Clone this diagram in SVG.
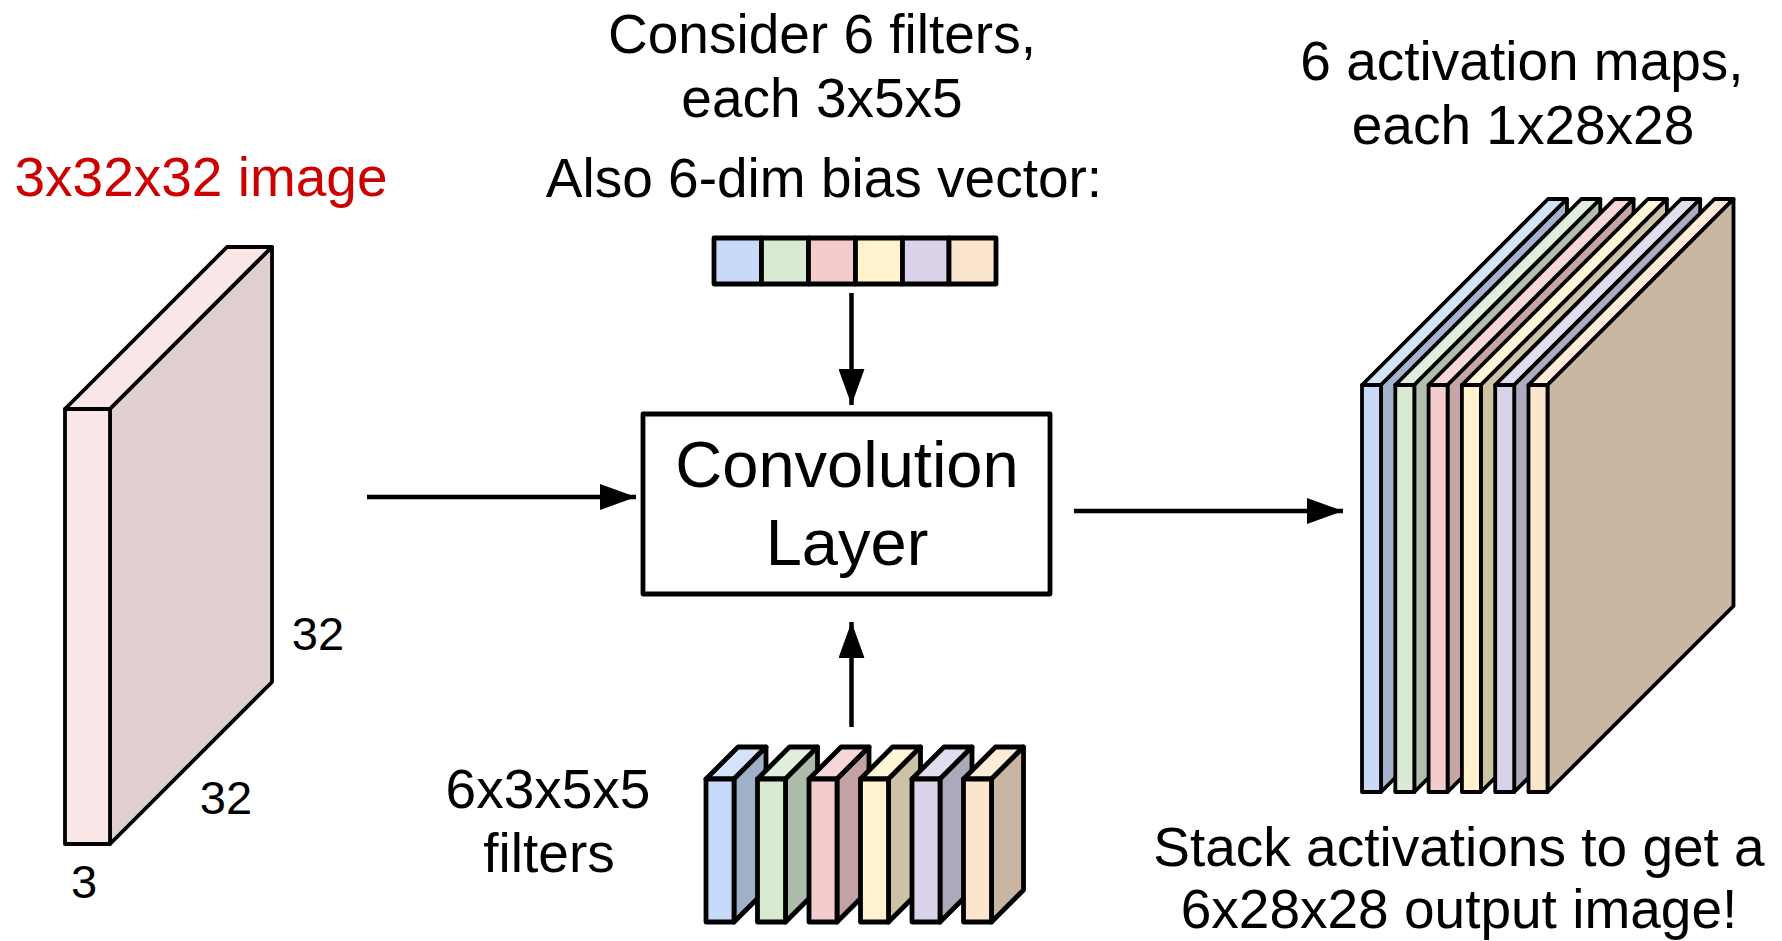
<svg xmlns="http://www.w3.org/2000/svg" width="1782" height="941" viewBox="0 0 1782 941">
<defs>
<style>
text{font-family:"Liberation Sans",Arial,sans-serif;fill:#000;text-anchor:middle}
.t55{font-size:55px}
.t46{font-size:47px}
.t65{font-size:65px}
.red{fill:#cc0000}
.s3{stroke:#000;stroke-width:3.8;stroke-linejoin:round}
.s4{stroke:#000;stroke-width:4.8;stroke-linejoin:round}
.conn{stroke:#000;stroke-width:4.5;fill:none}
</style>
<marker id="ah" viewBox="0 0 36 26" refX="36" refY="13" markerWidth="36" markerHeight="26" markerUnits="userSpaceOnUse" orient="auto">
<path d="M0,0 L36,13 L0,26 Z" fill="#000"/>
</marker>
</defs>
<rect width="1782" height="941" fill="#fff"/>

<g id="input-volume">
<polygon class="s3" fill="#f9e6e6" points="65,409 110,409 272,247 227,247"/>
<polygon class="s3" fill="#dfcfcf" points="110,409 272,247 272,682 110,844"/>
<rect class="s3" fill="#f9e6e6" x="65" y="409" width="45" height="435"/>
</g>
<g id="input-labels">
<text class="t55 red" x="201" y="196">3x32x32 image</text>
<text class="t46" x="318" y="650">32</text>
<text class="t46" x="226" y="814">32</text>
<text class="t46" x="84" y="898">3</text>
</g>

<g id="top-text">
<text class="t55" x="822" y="53">Consider 6 filters,</text>
<text class="t55" x="822" y="117">each 3x5x5</text>
<text class="t55" x="824" y="197">Also 6-dim bias vector:</text>
</g>

<g id="bias-vector">
<rect class="s4" fill="#c9daf8" x="714" y="238" width="47.5" height="46"/>
<rect class="s4" fill="#d9ead3" x="761.5" y="238" width="47" height="46"/>
<rect class="s4" fill="#f4cccc" x="808.5" y="238" width="47" height="46"/>
<rect class="s4" fill="#fff2cc" x="855.5" y="238" width="47" height="46"/>
<rect class="s4" fill="#d9d2e9" x="902.5" y="238" width="46.5" height="46"/>
<rect class="s4" fill="#fce5cd" x="949" y="238" width="47" height="46"/>
</g>

<g id="conv-layer">
<rect class="s4" fill="#fff" x="643" y="414" width="407" height="180"/>
<text class="t65" x="847" y="487">Convolution</text>
<text class="t65" x="847" y="565">Layer</text>
</g>

<g id="filters">
<g>
<polygon class="s4" fill="#d5e3f9" points="706,779 734,779 766,747 738,747"/>
<polygon class="s4" fill="#9fb0c9" points="734,779 766,747 766,890 734,922"/>
<rect class="s4" fill="#c9daf8" x="706" y="779" width="28" height="143"/>
</g>
<g>
<polygon class="s4" fill="#e1eedc" points="757.5,779 785.5,779 817.5,747 789.5,747"/>
<polygon class="s4" fill="#adbcaa" points="785.5,779 817.5,747 817.5,890 785.5,922"/>
<rect class="s4" fill="#d9ead3" x="757.5" y="779" width="28" height="143"/>
</g>
<g>
<polygon class="s4" fill="#f6d7d7" points="809,779 837,779 869,747 841,747"/>
<polygon class="s4" fill="#c4a2a4" points="837,779 869,747 869,890 837,922"/>
<rect class="s4" fill="#f4cccc" x="809" y="779" width="28" height="143"/>
</g>
<g>
<polygon class="s4" fill="#fff5d7" points="860.5,779 888.5,779 920.5,747 892.5,747"/>
<polygon class="s4" fill="#cbc3a3" points="888.5,779 920.5,747 920.5,890 888.5,922"/>
<rect class="s4" fill="#fff2cc" x="860.5" y="779" width="28" height="143"/>
</g>
<g>
<polygon class="s4" fill="#e1dcee" points="912,779 940,779 972,747 944,747"/>
<polygon class="s4" fill="#aca9bb" points="940,779 972,747 972,890 940,922"/>
<rect class="s4" fill="#d9d2e9" x="912" y="779" width="28" height="143"/>
</g>
<g>
<polygon class="s4" fill="#fdead7" points="963.5,779 991.5,779 1023.5,747 995.5,747"/>
<polygon class="s4" fill="#c9b5a3" points="991.5,779 1023.5,747 1023.5,890 991.5,922"/>
<rect class="s4" fill="#fce5cd" x="963.5" y="779" width="28" height="143"/>
</g>
</g>
<g id="filters-label">
<text class="t55" x="548" y="808">6x3x5x5</text>
<text class="t55" x="549" y="872">filters</text>
</g>

<g id="activation-maps">
<g>
<polygon class="s3" fill="#d5e3f9" points="1362,385 1381,385 1567,199 1548,199"/>
<polygon class="s3" fill="#a3b3cb" points="1381,385 1567,199 1567,606 1381,792"/>
<rect class="s3" fill="#c9daf8" x="1362" y="385" width="19" height="407"/>
</g>
<g>
<polygon class="s3" fill="#e1eedc" points="1395.3,385 1414.3,385 1600.3,199 1581.3,199"/>
<polygon class="s3" fill="#b1bfac" points="1414.3,385 1600.3,199 1600.3,606 1414.3,792"/>
<rect class="s3" fill="#d9ead3" x="1395.3" y="385" width="19" height="407"/>
</g>
<g>
<polygon class="s3" fill="#f6d7d7" points="1428.6,385 1447.6,385 1633.6,199 1614.6,199"/>
<polygon class="s3" fill="#c6a5a6" points="1447.6,385 1633.6,199 1633.6,606 1447.6,792"/>
<rect class="s3" fill="#f4cccc" x="1428.6" y="385" width="19" height="407"/>
</g>
<g>
<polygon class="s3" fill="#fff5d7" points="1461.9,385 1480.9,385 1666.9,199 1647.9,199"/>
<polygon class="s3" fill="#cdc4a5" points="1480.9,385 1666.9,199 1666.9,606 1480.9,792"/>
<rect class="s3" fill="#fff2cc" x="1461.9" y="385" width="19" height="407"/>
</g>
<g>
<polygon class="s3" fill="#e1dcee" points="1495.2,385 1514.2,385 1700.2,199 1681.2,199"/>
<polygon class="s3" fill="#aeabbd" points="1514.2,385 1700.2,199 1700.2,606 1514.2,792"/>
<rect class="s3" fill="#d9d2e9" x="1495.2" y="385" width="19" height="407"/>
</g>
<g>
<polygon class="s3" fill="#fdead7" points="1528.5,385 1547.5,385 1733.5,199 1714.5,199"/>
<polygon class="s3" fill="#c9b6a3" points="1547.5,385 1733.5,199 1733.5,606 1547.5,792"/>
<rect class="s3" fill="#fce5cd" x="1528.5" y="385" width="19" height="407"/>
</g>
</g>
<g id="output-text">
<text class="t55" x="1522" y="80">6 activation maps,</text>
<text class="t55" x="1523" y="144">each 1x28x28</text>
<text class="t55" x="1459" y="866">Stack activations to get a</text>
<text class="t55" x="1459" y="928">6x28x28 output image!</text>
</g>

<g id="connectors">
<line class="conn" x1="367" y1="497" x2="636" y2="497" marker-end="url(#ah)"/>
<line class="conn" x1="1074" y1="511" x2="1343" y2="511" marker-end="url(#ah)"/>
<line class="conn" x1="851.5" y1="293" x2="851.5" y2="405" marker-end="url(#ah)"/>
<line class="conn" x1="851.5" y1="727" x2="851.5" y2="622" marker-end="url(#ah)"/>
</g>
</svg>
